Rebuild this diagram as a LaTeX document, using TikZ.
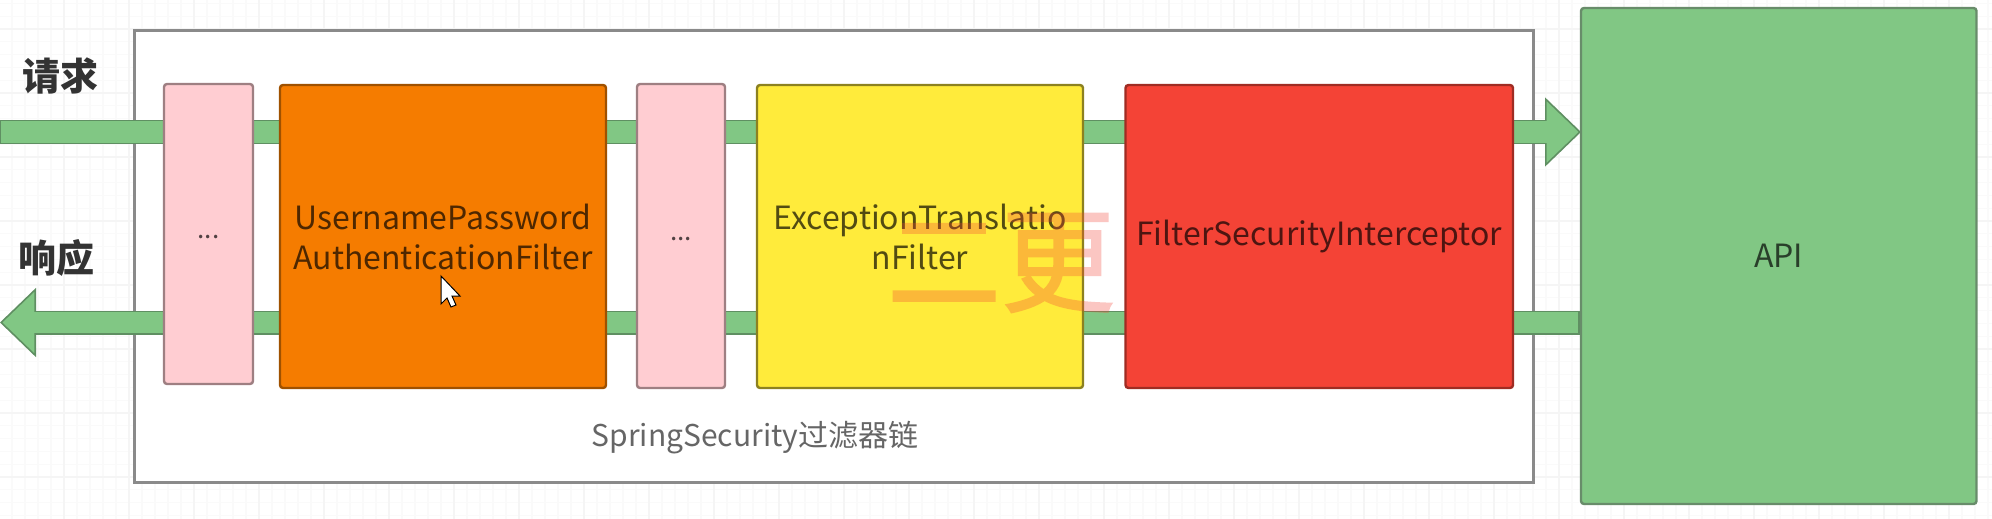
\documentclass[tikz,border=0pt]{standalone}
\usepackage{fontspec}
\setmainfont{Noto Sans CJK SC}
\newfontfamily\markfont[FakeBold=1.6]{Noto Sans CJK SC}
\usetikzlibrary{arrows.meta,calc}
\pgfdeclarelayer{backlayer}
\pgfdeclarelayer{bandlayer}
\pgfsetlayers{backlayer,bandlayer,main}
\definecolor{bandgreen}{HTML}{81C784}
\definecolor{bandedge}{HTML}{5F8F62}
\definecolor{gridmajor}{HTML}{F5F5F5}
\definecolor{gridminor}{HTML}{FAFAFA}
\definecolor{pinkfill}{HTML}{FFCDD2}
\definecolor{orangefill}{HTML}{F57C00}
\definecolor{yellowfill}{HTML}{FFEB3B}
\definecolor{redfill}{HTML}{F44336}
\tikzset{
  x=1pt,y=-1pt,
  box/.style={draw=#1,line width=2.4pt,rounded corners=3pt,inner sep=0pt,outer sep=0pt,anchor=north west,
    align=center,font=\fontsize{32}{40}\selectfont,text opacity=.68,text=black},
  pinkbox/.style={box=pinkfill!62!black,fill=pinkfill,font=\fontsize{26}{26}\selectfont},
  orangebox/.style={box=orangefill!65!black,fill=orangefill},
  yellowbox/.style={box=yellowfill!55!black,fill=yellowfill},
  redbox/.style={box=redfill!65!black,fill=redfill},
  apibox/.style={box=bandgreen!60!black!85,fill=bandgreen},
  bandouter/.style={draw=bandedge,line width=24pt},
  bandinner/.style={draw=bandgreen,line width=21.5pt},
  bandtip/.style={-{Triangle[length=36pt,width=69pt,fill=bandgreen,line width=1.6pt,line join=miter]}},
  sidelabel/.style={font=\fontsize{38}{38}\selectfont\bfseries,text=black!80,inner sep=0pt},
  marktext/.style={font=\markfont\fontsize{114}{114}\selectfont,text=redfill,inner sep=0pt},
}
\begin{document}
\begin{tikzpicture}
\useasboundingbox (0,0) rectangle (1992,519);
\begin{pgfonlayer}{backlayer}
\fill[white] (0,0) rectangle (1992,519);
\foreach \gx in {1,...,154}{\draw[gridminor,line width=1.2pt] ({\gx*13-1},0) -- ({\gx*13-1},519);}
\foreach \gy in {0,...,40}{\draw[gridminor,line width=1.2pt] (0,{\gy*12.8+3.4}) -- (1992,{\gy*12.8+3.4});}
\foreach \gx in {1,...,30}{\draw[gridmajor,line width=1.4pt] ({\gx*65-1},0) -- ({\gx*65-1},519);}
\foreach \gy in {0,...,8}{\draw[gridmajor,line width=1.4pt] (0,{\gy*64+29}) -- (1992,{\gy*64+29});}
\node[draw=black!46,line width=3pt,fill=white,minimum width=1399pt,minimum height=451pt,inner sep=0pt,outer sep=0pt,anchor=north west] (chain) at (134,31) {};
\end{pgfonlayer}
\node[font=\fontsize{30}{36}\selectfont,text=black!60,inner sep=0pt] (chainlabel) at (755,438) {SpringSecurity过滤器链};
% API and filters
\node[apibox,minimum width=395.5pt,minimum height=496pt] (api) at (1581,8) {API};
\node[pinkbox,minimum width=89pt,minimum height=300pt] (dotsa) at (164,84) {\raisebox{-9pt}{...}};
\node[orangebox,minimum width=326pt,minimum height=303pt] (upaf) at (280,85) {UsernamePassword\\AuthenticationFilter};
\node[pinkbox,minimum width=88pt,minimum height=304pt] (dotsb) at (637,84) {\raisebox{-9pt}{...}};
\node[yellowbox,minimum width=326pt,minimum height=303pt] (etf) at (757,85) {ExceptionTranslatio\\nFilter};
\node[redbox,minimum width=387.5pt,minimum height=303pt] (fsi) at (1125.5,85) {FilterSecurityInterceptor};
% connectors, behind the boxes
\coordinate (reqin) at (0,132);
\coordinate (resout) at (0,322.5);
\begin{pgfonlayer}{bandlayer}
\draw[bandouter,bandtip] (reqin) -- (api.west |- reqin);
\draw[bandinner,shorten >=33pt,shorten <=1pt] (reqin) -- (api.west |- reqin);
\draw[bandouter,bandtip] (api.west |- resout) -- (resout);
\draw[bandinner,shorten >=33pt,shorten <=3.5pt] (api.west |- resout) -- (resout);
\end{pgfonlayer}
% side labels
\node[sidelabel] (req) at (61,76) {请求};
\node[sidelabel] (res) at (56,258) {响应};
% watermark
\begin{scope}[transparency group,opacity=.3]
\node[marktext] (mark) at (1001,263) {二更};
\end{scope}
% mouse pointer
\draw[black,fill=white,line width=1pt,line join=miter] (441,276) -- (441,304) -- (447,298) -- (451,307) -- (456,305) -- (452,296) -- (460,296) -- cycle;
\end{tikzpicture}
\end{document}
